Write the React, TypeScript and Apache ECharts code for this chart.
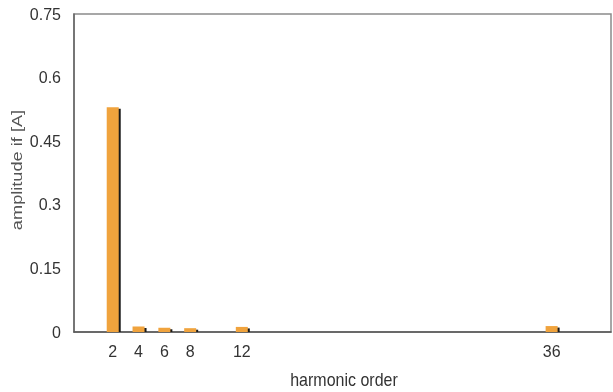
import React, { useEffect, useRef } from "react";
import * as echarts from "echarts";

const harmonicOrders = [2, 4, 6, 8, 12, 36];
const amplitudes = [0.53, 0.013, 0.01, 0.009, 0.012, 0.014];
const xTickLabels = [2, 4, 6, 8, 12, 36];
const xAxisTitle = "harmonic order";
const yAxisTitle = "amplitude if [A]";

export default function App() {
  const ref = useRef<HTMLDivElement>(null);
  useEffect(() => {
    const chart = echarts.init(ref.current!, null, { renderer: "svg" });
    const data = harmonicOrders.map((h, i) => [h, amplitudes[i]]);
    chart.setOption({
      animation: false,
      grid: {
        left: 74,
        top: 14,
        right: 2,
        bottom: 60,
        show: true,
        borderColor: "#8a8a8a",
        borderWidth: 1.5,
        backgroundColor: "transparent",
      },
      graphic: [
        {
          type: "text",
          x: 344,
          y: 380,
          scaleY: 1.15,
          style: {
            text: xAxisTitle,
            fontFamily: "Liberation Sans",
            fontSize: 16,
            fill: "#333",
            textAlign: "center",
            textVerticalAlign: "middle",
          },
        },
        {
          type: "text",
          x: 17,
          y: 170,
          rotation: Math.PI / 2,
          scaleX: 1.3,
          style: {
            text: yAxisTitle,
            fontFamily: "Liberation Sans",
            fontSize: 14,
            fill: "#555",
            textAlign: "center",
            textVerticalAlign: "middle",
          },
        },
      ],
      xAxis: {
        type: "value",
        min: -1,
        max: 40.6,
        axisLine: { show: true, onZero: false, lineStyle: { color: "#555", width: 1.5 } },
        axisTick: { show: false },
        splitLine: { show: false },
        axisLabel: {
          customValues: xTickLabels,
          fontFamily: "Liberation Sans",
          fontSize: 16,
          color: "#333",
          margin: 11,
        },
      },
      yAxis: {
        type: "value",
        min: 0,
        max: 0.75,
        interval: 0.15,
        axisLine: { show: true, onZero: false, lineStyle: { color: "#666", width: 1.5 } },
        axisTick: { show: false },
        splitLine: { show: false },
        axisLabel: {
          fontFamily: "Liberation Sans",
          fontSize: 16,
          color: "#333",
          margin: 13,
          formatter: (v: number) => String(Math.round(v * 100) / 100),
        },
      },
      series: [
        {
          type: "custom",
          data,
          renderItem: (params: any, api: any) => {
            const x = api.value(0);
            const y = api.value(1);
            const top = api.coord([x, y]);
            const base = api.coord([x, 0]);
            const w = 12;
            const h = base[1] - top[1];
            return {
              type: "group",
              children: [
                {
                  type: "rect",
                  shape: { x: top[0] - w / 2 + 2, y: top[1] + 1.5, width: w, height: h - 1.5 },
                  style: { fill: "#1a1a1a" },
                },
                {
                  type: "rect",
                  shape: { x: top[0] - w / 2, y: top[1], width: w, height: h },
                  style: { fill: "#f0a33d" },
                },
              ],
            };
          },
        },
      ],
    });
    return () => chart.dispose();
  }, []);
  return (
    <div
      ref={ref}
      style={{ position: "fixed", left: 0, top: 0, width: 613, height: 392 }}
    />
  );
}
